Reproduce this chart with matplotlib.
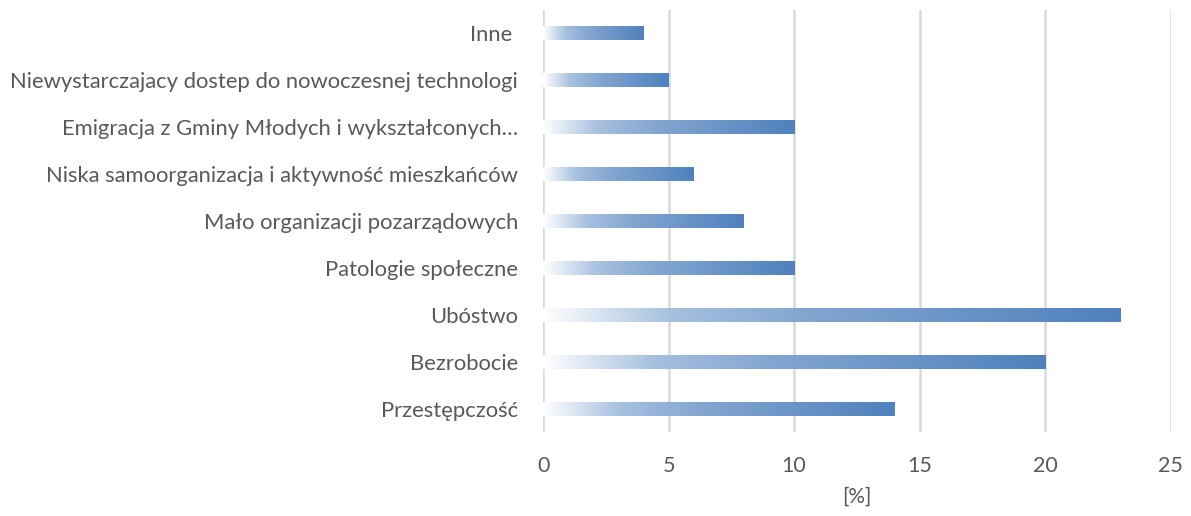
import numpy as np
import matplotlib
matplotlib.use("Agg")
import matplotlib.pyplot as plt
from matplotlib.colors import LinearSegmentedColormap

categories = ["Przestępczość", "Bezrobocie", "Ubóstwo", "Patologie społeczne",
              "Mało organizacji pozarządowych",
              "Niska samoorganizacja i aktywność mieszkańców",
              "Emigracja z Gminy Młodych i wykształconych…",
              "Niewystarczajacy dostep do nowoczesnej technologi",
              "Inne "]
values = [14, 20, 23, 10, 8, 6, 10, 5, 4]

plt.rcParams['font.family'] = ['Lato', 'DejaVu Sans']
fig = plt.figure(figsize=(11.91, 5.16), dpi=100)
ax = fig.add_axes([0.456, 0.162, 0.527, 0.819])

cmap = LinearSegmentedColormap.from_list(
    "grad", [(0.0, "#FFFFFF"), (0.22, "#A6C0DF"), (0.45, "#83A6D1"), (1.0, "#4F81BD")])
grad = np.linspace(0, 1, 256).reshape(1, -1)

h = 0.29
ypos = np.arange(len(categories))
for y, v in zip(ypos, values):
    ax.imshow(grad, cmap=cmap, aspect='auto', extent=(0, v, y - h / 2, y + h / 2),
              zorder=3, interpolation='bilinear')

ax.set_xlim(0, 25)
ax.set_ylim(-0.5, len(categories) - 0.5)
ax.set_yticks(ypos)
ax.set_yticklabels(categories)
ax.set_xticks([0, 5, 10, 15, 20, 25])
ax.xaxis.grid(True, color="#D9D9D9", linewidth=1.8, zorder=0)
ax.set_axisbelow(True)
for s in ax.spines.values():
    s.set_visible(False)
ax.tick_params(axis='y', length=0, labelsize=15.8, colors="#595959", pad=18)
ax.tick_params(axis='x', length=0, labelsize=15.5, colors="#595959", pad=17)
ax.set_xlabel("[%]", fontsize=15, color="#595959", labelpad=8)

fig.savefig("out.png", dpi=100, facecolor="white")
